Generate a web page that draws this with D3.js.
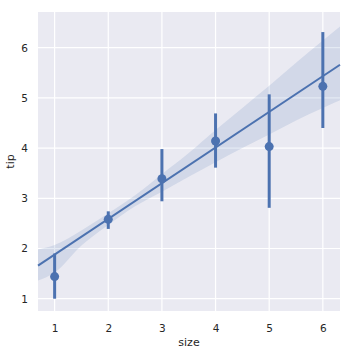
<!DOCTYPE html>
<html>
<head>
<meta charset="utf-8">
<script src="https://cdn.jsdelivr.net/npm/d3@7"></script>
<style>
  body { margin: 0; background: #fff; }
  #chart { width: 352px; height: 352px; }
  .tick text { font-family: "DejaVu Sans", sans-serif; font-size: 10.5px; fill: #262626; }
  .axisLabel { font-family: "DejaVu Sans", sans-serif; font-size: 11px; fill: #262626; }
</style>
</head>
<body>
<div id="chart"></div>
<script>
// party size vs mean tip, with 95% CI of each mean
const sizes = [1, 2, 3, 4, 5, 6];
const meanTip = [1.44, 2.58, 3.39, 4.14, 4.03, 5.23];
const ciLow = [1.00, 2.39, 2.94, 3.61, 2.81, 4.40];
const ciHigh = [1.90, 2.74, 3.98, 4.69, 5.07, 6.31];

// regression line and its confidence band
const lineX = [0.69, 6.32];
const lineY = [1.66, 5.66];
const bandX = [0.69, 1, 1.5, 2, 2.5, 3, 3.5, 4, 4.5, 5, 5.5, 6, 6.32];
const bandHigh = [1.98, 2.07, 2.36, 2.70, 3.06, 3.48, 3.90, 4.36, 4.80, 5.24, 5.70, 6.14, 6.42];
const bandLow = [1.36, 1.52, 2.06, 2.47, 2.84, 3.13, 3.43, 3.72, 4.00, 4.27, 4.55, 4.80, 4.95];

const xTicks = [1, 2, 3, 4, 5, 6];
const yTicks = [1, 2, 3, 4, 5, 6];

const width = 352, height = 352;
const margin = { top: 12, left: 38, right: 12, bottom: 41 };
const blue = "#4C72B0";

const svg = d3.select("#chart")
  .append("svg")
  .attr("width", width)
  .attr("height", height);

const xScale = d3.scaleLinear()
  .domain([0.69, 6.32])
  .range([margin.left, width - margin.right]);

const yScale = d3.scaleLinear()
  .domain([0.755, 6.71])
  .range([height - margin.bottom, margin.top]);

// background
svg.append("rect")
  .attr("x", margin.left)
  .attr("y", margin.top)
  .attr("width", width - margin.left - margin.right)
  .attr("height", height - margin.top - margin.bottom)
  .attr("fill", "#EAEAF2");

// grid
svg.append("g")
  .selectAll("line")
  .data(xTicks)
  .enter()
  .append("line")
    .attr("x1", d => xScale(d)).attr("x2", d => xScale(d))
    .attr("y1", margin.top).attr("y2", height - margin.bottom)
    .attr("stroke", "#fff").attr("stroke-width", 1.2);

svg.append("g")
  .selectAll("line")
  .data(yTicks)
  .enter()
  .append("line")
    .attr("y1", d => yScale(d)).attr("y2", d => yScale(d))
    .attr("x1", margin.left).attr("x2", width - margin.right)
    .attr("stroke", "#fff").attr("stroke-width", 1.2);

// axes (no spines, no tick marks)
const xAxis = svg.append("g")
  .attr("transform", `translate(0,${height - margin.bottom})`)
  .call(d3.axisBottom(xScale).tickValues(xTicks).tickSize(0).tickPadding(14).tickFormat(d3.format("d")));
xAxis.select(".domain").remove();

const yAxis = svg.append("g")
  .attr("transform", `translate(${margin.left},0)`)
  .call(d3.axisLeft(yScale).tickValues(yTicks).tickSize(0).tickPadding(10).tickFormat(d3.format("d")));
yAxis.select(".domain").remove();

// confidence band
const bandData = bandX.map((x, i) => ({ x: x, lo: bandLow[i], hi: bandHigh[i] }));
svg.append("path")
  .datum(bandData)
  .attr("fill", blue)
  .attr("fill-opacity", 0.15)
  .attr("d", d3.area()
    .x(d => xScale(d.x))
    .y0(d => yScale(d.lo))
    .y1(d => yScale(d.hi))
    .curve(d3.curveMonotoneX));

// regression line
svg.append("path")
  .datum(lineX.map((x, i) => ({ x: x, y: lineY[i] })))
  .attr("fill", "none")
  .attr("stroke", blue)
  .attr("stroke-width", 2)
  .attr("d", d3.line().x(d => xScale(d.x)).y(d => yScale(d.y)));

// error bars
const points = sizes.map((s, i) => ({ size: s, mean: meanTip[i], lo: ciLow[i], hi: ciHigh[i] }));
svg.selectAll(".ci")
  .data(points)
  .enter()
  .append("line")
    .attr("class", "ci")
    .attr("x1", d => xScale(d.size)).attr("x2", d => xScale(d.size))
    .attr("y1", d => yScale(d.lo)).attr("y2", d => yScale(d.hi))
    .attr("stroke", blue)
    .attr("stroke-width", 3);

// means
svg.selectAll(".dot")
  .data(points)
  .enter()
  .append("circle")
    .attr("class", "dot")
    .attr("cx", d => xScale(d.size))
    .attr("cy", d => yScale(d.mean))
    .attr("r", 4.5)
    .attr("fill", blue);

// axis labels
svg.append("text")
  .attr("class", "axisLabel")
  .attr("x", (margin.left + width - margin.right) / 2)
  .attr("y", 346)
  .attr("text-anchor", "middle")
  .text("size");

svg.append("text")
  .attr("class", "axisLabel")
  .attr("transform", "rotate(-90)")
  .attr("x", -(margin.top + height - margin.bottom) / 2)
  .attr("y", 14)
  .attr("text-anchor", "middle")
  .text("tip");
</script>
</body>
</html>
